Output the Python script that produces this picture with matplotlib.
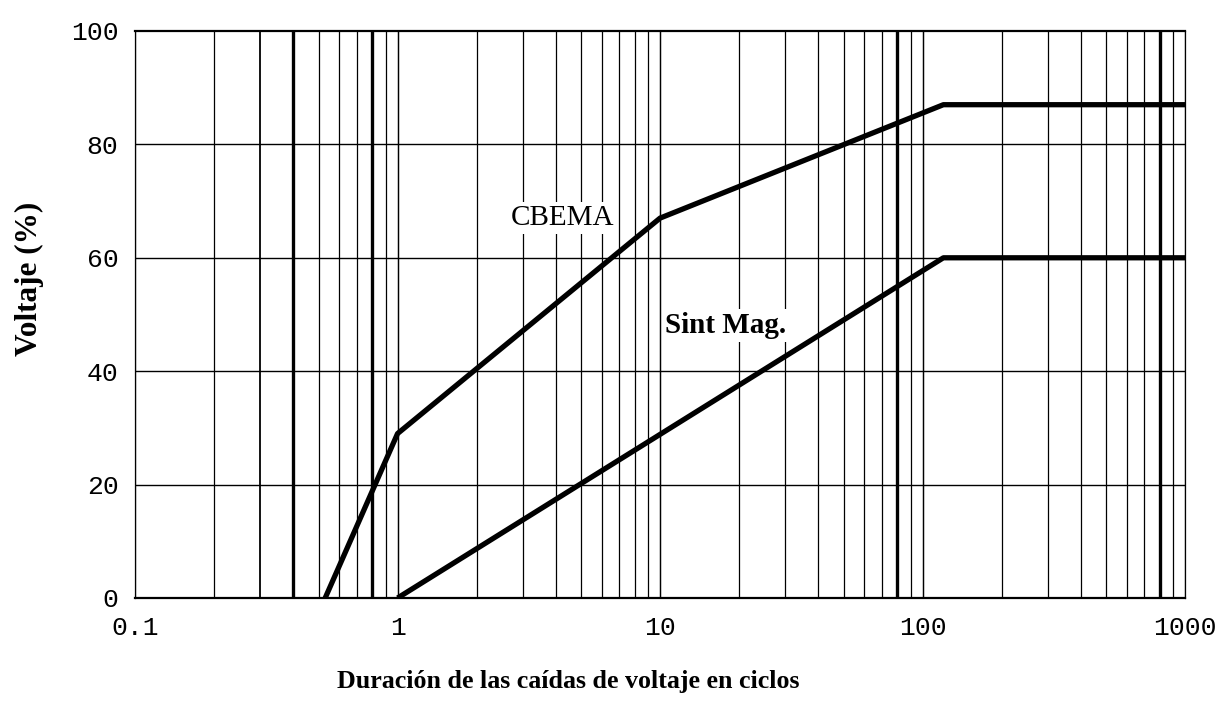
import matplotlib
matplotlib.use("Agg")
import matplotlib.pyplot as plt

# curvas de tolerancia a caídas de voltaje (ciclos, % de voltaje)
cbema_ciclos = [0.53, 1, 10, 120, 1000]
cbema_voltaje = [0, 29, 67, 87, 87]
sint_ciclos = [1, 120, 1000]
sint_voltaje = [0, 60, 60]

x_ticks = [0.1, 1, 10, 100, 1000]
x_labels = ["0.1", "1", "10", "100", "1000"]
y_ticks = [0, 20, 40, 60, 80, 100]

# líneas de la rejilla que salen más gruesas en el papel
rejilla_gruesa = {0.3: 1.3, 0.4: 2.4, 0.8: 2.4, 80: 2.4, 800: 2.4}

fuente_ticks = "Liberation Mono"

fig = plt.figure(figsize=(12.2, 7.19), dpi=100)
ax = fig.add_axes([0.1107, 0.1683, 0.8607, 0.7886])

ax.set_xscale("log")
ax.set_xlim(0.1, 1000)
ax.set_ylim(0, 100)

# rejilla logarítmica: décadas y subdivisiones 2..9
for dec in [0.1, 1, 10, 100]:
    for k in range(1, 11):
        v = round(dec * k, 6)
        lw = rejilla_gruesa.get(v, 0.9)
        ax.axvline(v, color="black", lw=lw, zorder=1)
for yv in y_ticks[1:-1]:
    ax.axhline(yv, color="black", lw=1.0, zorder=1)

for lado in ["left", "right"]:
    ax.spines[lado].set_linewidth(0.9)
for lado in ["top", "bottom"]:
    ax.spines[lado].set_linewidth(1.6)

ax.plot(cbema_ciclos, cbema_voltaje, color="black", lw=3.8, zorder=3,
        solid_capstyle="butt")
ax.plot(sint_ciclos, sint_voltaje, color="black", lw=3.8, zorder=3,
        solid_capstyle="butt")

ax.text(4.24, 67, "CBEMA", family="Liberation Serif", fontsize=21,
        ha="center", va="center", zorder=4,
        bbox=dict(facecolor="white", edgecolor="none", pad=2))
ax.text(17.8, 48, "Sint Mag.", family="Liberation Serif", fontsize=21,
        fontweight="bold", ha="center", va="center", zorder=4,
        bbox=dict(facecolor="white", edgecolor="none", pad=2))

ax.set_xticks(x_ticks)
ax.set_xticklabels(x_labels)
ax.xaxis.set_minor_locator(matplotlib.ticker.NullLocator())
ax.set_yticks(y_ticks)
ax.set_yticklabels([str(v) for v in y_ticks])
ax.tick_params(length=0)
ax.tick_params(axis="x", pad=13)
ax.tick_params(axis="y", pad=12)
for lbl in ax.get_xticklabels() + ax.get_yticklabels():
    lbl.set_family(fuente_ticks)
    lbl.set_fontsize(19)

fig.text(0.466, 0.052, "Duración de las caídas de voltaje en ciclos",
         family="Liberation Serif", fontweight="bold", fontsize=18.7,
         ha="center", va="center")
fig.text(0.024, 0.612, "Voltaje (%)", family="Liberation Serif",
         fontweight="bold", fontsize=22.5, rotation=90,
         ha="center", va="center")

fig.savefig("out.png", dpi=100)
